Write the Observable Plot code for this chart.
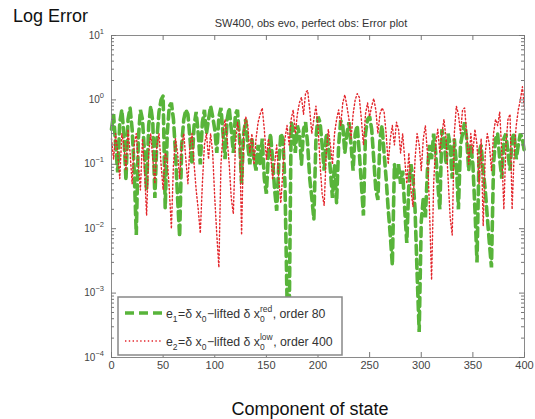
<!DOCTYPE html>
<html>
<head>
<meta charset="utf-8">
<script src="https://cdn.jsdelivr.net/npm/d3@7"></script>
<script src="https://cdn.jsdelivr.net/npm/@observablehq/plot@0.6"></script>
<style>
  html, body { margin: 0; padding: 0; background: white; }
  #chart { width: 535px; height: 419px; }
</style>
</head>
<body>
<div id="chart"></div>
<script>
// Components of state (every 2nd component, 0..400)
const components = d3.range(0, 401, 2);

// e1 = dx0 - lifted dx0^red, order 80 (green dashed)
const e1 = [
  0.35, 0.6, 0.2, 0.075, 0.45, 0.7, 0.3, 0.056, 0.5, 0.75,
  0.35, 0.08, 0.008, 0.25, 0.7, 0.5, 0.15, 0.04, 0.4, 0.8,
  0.45, 0.03, 0.25, 0.65, 1.0, 1.15, 0.021, 0.3, 0.8, 0.9,
  0.5, 0.15, 0.03, 0.0075, 0.2, 0.5, 0.7, 0.6, 0.25, 0.1,
  0.4, 0.65, 0.3, 0.1, 0.45, 0.7, 0.3, 0.5, 0.8, 0.55,
  0.35, 0.15, 0.55, 0.75, 0.3, 0.12, 0.5, 0.75, 0.35, 0.15,
  0.6, 0.7, 0.25, 0.05, 0.3, 0.5, 0.2, 0.1, 0.25, 0.12,
  0.08, 0.2, 0.1, 0.25, 0.06, 0.035, 0.15, 0.3, 0.12, 0.04,
  0.019, 0.1, 0.3, 0.25, 0.05, 0.0008, 0.00025, 0.45, 0.35, 0.15,
  0.4, 0.3, 0.1, 0.35, 0.45, 0.2, 0.06, 0.03, 0.014, 0.25,
  0.55, 0.45, 0.2, 0.08, 0.3, 0.2, 0.08, 0.03, 0.1, 0.025,
  0.2, 0.48, 0.4, 0.15, 0.3, 0.45, 0.2, 0.08, 0.3, 0.4,
  0.15, 0.05, 0.016, 0.3, 0.5, 0.55, 0.35, 0.12, 0.04, 0.028,
  0.25, 0.4, 0.15, 0.06, 0.02, 0.008, 0.0027, 0.1, 0.06, 0.1,
  0.05, 0.08, 0.02, 0.006, 0.05, 0.1, 0.06, 0.02, 0.002, 0.00025,
  0.013, 0.03, 0.015, 0.08, 0.2, 0.12, 0.3, 0.15, 0.05, 0.02,
  0.35, 0.25, 0.1, 0.3, 0.2, 0.06, 0.25, 0.1, 0.02, 0.2,
  0.3, 0.45, 0.25, 0.08, 0.2, 0.1, 0.02, 0.003, 0.15, 0.2,
  0.08, 0.04, 0.015, 0.006, 0.0025, 0.1, 0.25, 0.3, 0.12, 0.06,
  0.25, 0.3, 0.15, 0.08, 0.25, 0.3, 0.12, 0.2, 0.3, 0.25,
  0.15
];

// e2 = dx0 - lifted dx0^low, order 400 (red dotted)
const e2 = [
  0.25, 0.12, 0.3, 0.15, 0.06, 0.3, 0.2, 0.08, 0.35, 0.15,
  0.05, 0.2, 0.3, 0.1, 0.04, 0.25, 0.08, 0.016, 0.15, 0.3,
  0.12, 0.05, 0.2, 0.3, 0.1, 0.04, 0.15, 0.12, 0.04, 0.01,
  0.1, 0.25, 0.15, 0.06, 0.2, 0.3, 0.12, 0.05, 0.2, 0.3,
  0.1, 0.04, 0.02, 0.0085, 0.05, 0.2, 0.3, 0.12, 0.3, 0.15,
  0.03, 0.008, 0.0025, 0.1, 0.3, 0.5, 0.25, 0.1, 0.03, 0.017,
  0.2, 0.45, 0.3, 0.008, 0.3, 0.55, 0.4, 0.15, 0.3, 0.1,
  0.25, 0.45, 0.6, 0.75, 0.35, 0.12, 0.25, 0.15, 0.06, 0.1,
  0.2, 0.06, 0.025, 0.08, 0.25, 0.4, 0.2, 0.5, 0.7, 0.3,
  0.6, 0.9, 1.1, 0.6, 1.3, 1.4, 0.7, 0.3, 0.5, 0.8,
  0.4, 0.1, 0.035, 0.023, 0.15, 0.35, 0.2, 0.1, 0.3, 0.5,
  0.7, 0.4, 0.9, 1.2, 0.8, 0.5, 0.25, 0.6, 1.0, 1.25,
  1.1, 0.5, 0.2, 0.6, 0.9, 0.55, 0.8, 1.05, 0.7, 0.3,
  0.6, 0.75, 0.65, 0.3, 0.1, 0.25, 0.4, 0.2, 0.45, 0.35,
  0.15, 0.3, 0.12, 0.05, 0.15, 0.04, 0.022, 0.12, 0.3, 0.2,
  0.08, 0.25, 0.4, 0.15, 0.02, 0.0016, 0.05, 0.2, 0.35, 0.15,
  0.3, 0.5, 0.25, 0.06, 0.015, 0.008, 0.3, 0.8, 0.6, 0.3,
  0.7, 0.75, 0.3, 0.1, 0.3, 0.15, 0.35, 0.2, 0.05, 0.25,
  0.011, 0.15, 0.3, 0.2, 0.08, 0.3, 0.5, 0.4, 0.65, 0.15,
  0.02, 0.2, 0.5, 0.6, 0.02, 0.15, 0.4, 0.7, 1.0, 1.6,
  0.7
];

const xTicks = [0, 50, 100, 150, 200, 250, 300, 350, 400];
const yDecades = [1e-4, 1e-3, 1e-2, 1e-1, 1, 10];
const yExponents = ["-4", "-3", "-2", "-1", "0", "1"];
const minorMultipliers = [2, 3, 4, 5, 6, 7, 8, 9];

const title = "SW400, obs evo, perfect obs: Error plot";
const yTitle = "Log Error";
const xTitle = "Component of state";

const green = "#58b43a";
const red = "#e3262c";

const data1 = components.map((c, i) => ({c, v: e1[i]}));
const data2 = components.map((c, i) => ({c, v: e2[i]}));
const yMinor = yDecades.slice(0, -1).flatMap(d => minorMultipliers.map(m => d * m));

const W = 535, H = 419;
const mL = 111, mR = 11, mT = 35, mB = 62;
const fw = W - mL - mR, fh = H - mT - mB;
const tickCol = "#777";

const plot = Plot.plot({
  width: W, height: H,
  marginLeft: mL, marginRight: mR, marginTop: mT, marginBottom: mB,
  style: {fontFamily: "'Liberation Sans', Arial, sans-serif", background: "white", overflow: "visible"},
  x: {domain: [0, 400]},
  y: {type: "log", domain: [1e-4, 10]},
  marks: [
    Plot.line(data1, {x: "c", y: "v", stroke: green, strokeWidth: 3.6, strokeDasharray: "9,5", strokeLinejoin: "miter"}),
    Plot.line(data2, {x: "c", y: "v", stroke: red, strokeWidth: 1.4, strokeDasharray: "1.4,2.4"}),
    Plot.frame({stroke: "#8a8a8a", strokeWidth: 1}),
    Plot.ruleX(xTicks, {x: d => d, insetTop: fh - 5, stroke: tickCol}),
    Plot.ruleX(xTicks, {x: d => d, insetBottom: fh - 5, stroke: tickCol}),
    Plot.ruleY(yDecades, {y: d => d, insetRight: fw - 5, stroke: tickCol}),
    Plot.ruleY(yDecades, {y: d => d, insetLeft: fw - 5, stroke: tickCol}),
    Plot.ruleY(yMinor, {y: d => d, insetRight: fw - 3, stroke: tickCol}),
    Plot.ruleY(yMinor, {y: d => d, insetLeft: fw - 3, stroke: tickCol}),
    Plot.axisX({ticks: xTicks, tickSize: 0, tickPadding: 4, fontSize: 11, fill: "#444", label: null}),
    Plot.axisY({ticks: [], tickSize: 0, label: null})
  ]
});
document.getElementById("chart").appendChild(plot);

const svg = d3.select(plot);
const ys = plot.scale("y");
const FONT = "'Liberation Sans', Arial, sans-serif";

// y tick labels 10^n
yDecades.forEach((d, i) => {
  const t = svg.append("text")
    .attr("x", 104).attr("y", ys.apply(d) + 3.5)
    .attr("text-anchor", "end")
    .attr("font-family", FONT).attr("font-size", 10).attr("fill", "#444");
  t.append("tspan").text("10");
  t.append("tspan").attr("dy", -5).attr("font-size", 7.5).text(yExponents[i].replace("-", "\u2212"));
});

// titles
svg.append("text").attr("x", 311).attr("y", 27).attr("text-anchor", "middle")
  .attr("font-family", FONT).attr("font-size", 11).attr("fill", "#333").text(title);
svg.append("text").attr("x", 13).attr("y", 22).attr("text-anchor", "start")
  .attr("font-family", FONT).attr("font-size", 18).attr("fill", "#111").text(yTitle);
svg.append("text").attr("x", 310).attr("y", 415).attr("text-anchor", "middle")
  .attr("font-family", FONT).attr("font-size", 18).attr("fill", "#111").text(xTitle);

// legend
const lg = svg.append("g").attr("text-anchor", "start");
lg.append("rect").attr("x", 118).attr("y", 297).attr("width", 224).attr("height", 58)
  .attr("fill", "white").attr("stroke", "#888").attr("stroke-width", 1.5);
lg.append("line").attr("x1", 125).attr("x2", 163).attr("y1", 313).attr("y2", 313)
  .attr("stroke", green).attr("stroke-width", 3.6).attr("stroke-dasharray", "9,5");
lg.append("line").attr("x1", 125).attr("x2", 163).attr("y1", 341).attr("y2", 341)
  .attr("stroke", red).attr("stroke-width", 1.4).attr("stroke-dasharray", "1.4,2.4");

function rich(x, y, parts) {
  let cx = x;
  for (const p of parts) {
    if (p.sub !== undefined || p.sup !== undefined) {
      let w = 0;
      if (p.sub !== undefined) {
        const a = lg.append("text").attr("x", cx).attr("y", y + 4).attr("text-anchor", "start")
          .attr("font-family", FONT).attr("font-size", 8.5).attr("fill", "#333").text(p.sub);
        w = Math.max(w, a.node().getComputedTextLength());
      }
      if (p.sup !== undefined) {
        const b = lg.append("text").attr("x", cx).attr("y", y - 6).attr("text-anchor", "start")
          .attr("font-family", FONT).attr("font-size", 8.5).attr("fill", "#333").text(p.sup);
        w = Math.max(w, b.node().getComputedTextLength());
      }
      cx += w + 0.5;
    } else {
      const t = lg.append("text").attr("x", cx).attr("y", y).attr("text-anchor", "start")
        .attr("font-family", FONT).attr("font-size", 12.3).attr("fill", "#333").text(p.t);
      cx += t.node().getComputedTextLength();
    }
  }
}
rich(166, 318, [
  {t: "e"}, {sub: "1"}, {t: "=\u03b4 x"}, {sub: "0"}, {t: "\u2212lifted \u03b4 x"},
  {sub: "0", sup: "red"}, {t: ", order 80"}
]);
rich(166, 346, [
  {t: "e"}, {sub: "2"}, {t: "=\u03b4 x"}, {sub: "0"}, {t: "\u2212lifted \u03b4 x"},
  {sub: "0", sup: "low"}, {t: ", order 400"}
]);
</script>
</body>
</html>
